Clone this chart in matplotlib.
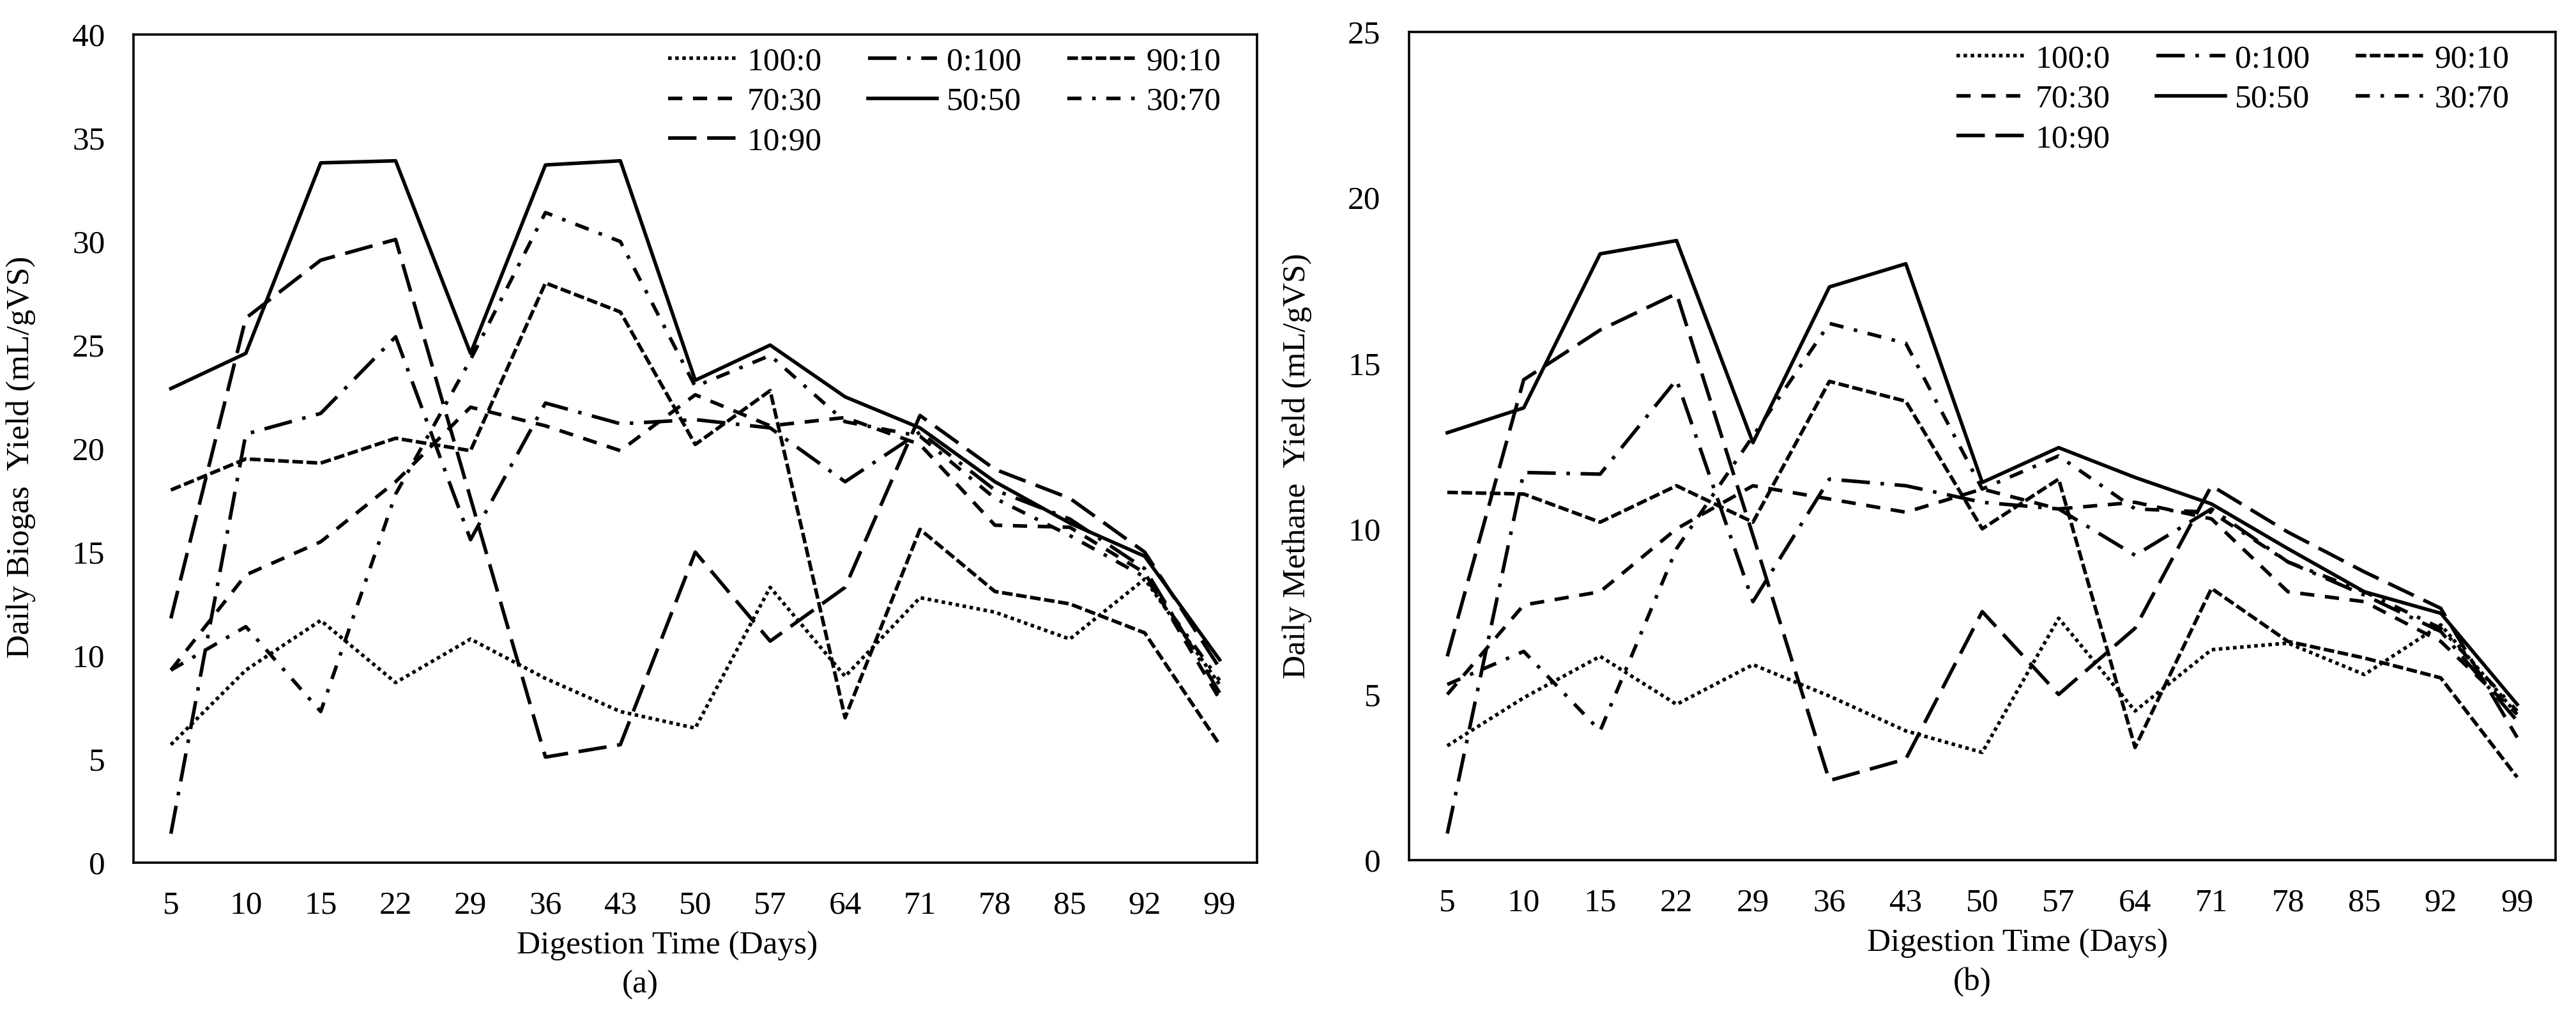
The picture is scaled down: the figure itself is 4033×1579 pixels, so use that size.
import matplotlib
matplotlib.use("Agg")
import matplotlib.pyplot as plt

plt.rcParams['font.family'] = ['Liberation Serif', 'DejaVu Serif']

days = ["5", "10", "15", "22", "29", "36", "43", "50", "57", "64", "71", "78", "85", "92", "99"]
ratios = ["100:0", "0:100", "90:10", "70:30", "50:50", "30:70", "10:90"]

# (a) daily biogas yield, mL/gVS
biogas_100_0 = [5.7, 9.3, 11.7, 8.7, 10.8, 8.9, 7.3, 6.5, 13.3, 9.0, 12.8, 12.1, 10.8, 13.7, 8.6]
biogas_0_100 = [1.4, 20.7, 21.7, 25.4, 15.6, 22.2, 21.2, 21.4, 21.0, 18.4, 20.8, 18.0, 16.6, 14.2, 8.2]
biogas_90_10 = [18.0, 19.5, 19.3, 20.5, 19.9, 28.0, 26.6, 20.2, 22.8, 7.0, 16.1, 13.1, 12.5, 11.1, 5.7]
biogas_70_30 = [9.3, 13.9, 15.5, 18.4, 22.0, 21.1, 19.9, 22.6, 21.1, 21.5, 20.2, 16.3, 16.2, 14.0, 7.9]
biogas_50_50 = [22.9, 24.6, 33.8, 33.9, 24.6, 33.7, 33.9, 23.3, 25.0, 22.5, 21.0, 18.4, 16.4, 14.8, 9.8]
biogas_30_70 = [9.3, 11.4, 7.3, 17.8, 24.3, 31.4, 30.0, 23.0, 24.5, 21.3, 20.6, 17.6, 15.8, 13.8, 8.8]
biogas_10_90 = [11.8, 26.3, 29.1, 30.1, 17.6, 5.1, 5.7, 15.0, 10.7, 13.3, 21.6, 19.0, 17.6, 15.0, 9.4]

# (b) daily methane yield, mL/gVS
methane_100_0 = [3.45, 4.9, 6.15, 4.7, 5.9, 4.95, 3.9, 3.25, 7.3, 4.5, 6.35, 6.55, 5.6, 7.1, 4.4]
methane_0_100 = [0.8, 11.7, 11.65, 14.5, 7.8, 11.5, 11.3, 10.8, 10.6, 9.2, 10.6, 9.0, 8.0, 6.9, 4.2]
methane_90_10 = [11.1, 11.05, 10.2, 11.3, 10.2, 14.45, 13.85, 10.0, 11.5, 3.4, 8.2, 6.6, 6.1, 5.5, 2.5]
methane_70_30 = [5.0, 7.7, 8.1, 10.0, 11.3, 10.9, 10.5, 11.2, 10.6, 10.8, 10.3, 8.1, 7.8, 6.6, 4.4]
methane_50_50 = [12.9, 13.65, 18.3, 18.7, 12.6, 17.3, 18.0, 11.4, 12.45, 11.55, 10.75, 9.4, 8.1, 7.45, 4.7]
methane_30_70 = [5.3, 6.3, 3.9, 9.4, 12.8, 16.2, 15.6, 11.2, 12.2, 10.6, 10.5, 9.0, 8.1, 7.0, 4.5]
methane_10_90 = [6.15, 14.5, 16.0, 17.1, 9.8, 2.4, 3.05, 7.5, 5.0, 7.0, 11.3, 9.9, 8.7, 7.6, 3.7]

# excel-like dash presets (multiples of line width)
styles = {
    "100:0": (0, (1, 1)),
    "0:100": (0, (8, 3, 1, 3)),
    "90:10": (0, (3, 1)),
    "70:30": (0, (4, 3)),
    "50:50": "-",
    "30:70": (0, (4, 3, 1, 3)),
    "10:90": (0, (8, 3)),
}

FS = 18.5
LW = 2.0


def draw_panel(ax, series, ymax, ylabel, xlabel_x, tag, tag_x, legend_x):
    lines = {}
    x = list(range(len(days)))
    for name, vals in zip(ratios, series):
        ln, = ax.plot(x, vals, color='black', lw=LW, linestyle=styles[name], label=name)
        lines[name] = ln

    ax.set_xlim(-0.5, len(days) - 0.5)
    ax.set_ylim(0, ymax)
    ax.set_xticks(x)
    ax.set_xticklabels(days)
    ax.set_yticks(range(0, ymax + 1, 5))
    ax.tick_params(length=0, labelsize=FS)
    ax.tick_params(axis='y', pad=16)
    ax.tick_params(axis='x', pad=16)
    for s in ax.spines.values():
        s.set_linewidth(1.3)
        s.set_color('black')

    ax.set_ylabel(ylabel, fontsize=FS)
    ax.yaxis.set_label_coords(-0.087, 0.49)
    ax.text(xlabel_x, -0.10, "Digestion Time (Days)", transform=ax.transAxes,
            ha='center', va='center', fontsize=FS)
    ax.text(tag_x, -0.147, tag, transform=ax.transAxes,
            ha='center', va='center', fontsize=FS)

    # row-major order like the original legend
    order = ["100:0", "70:30", "10:90", "0:100", "50:50", "90:10", "30:70"]
    ax.legend([lines[n] for n in order], order, ncol=3, loc='upper right',
              bbox_to_anchor=(legend_x, 0.985), frameon=False, fontsize=FS,
              handlelength=2.1, handletextpad=0.3, columnspacing=1.4,
              labelspacing=0.3, borderpad=0, borderaxespad=0)


fig = plt.figure(figsize=(4033 / 200, 1579 / 200), dpi=200)
ax1 = fig.add_axes([0.0518, 0.145, 0.4362, 0.8208])
ax2 = fig.add_axes([0.547, 0.1476, 0.445, 0.8208])

draw_panel(ax1,
           [biogas_100_0, biogas_0_100, biogas_90_10, biogas_70_30,
            biogas_50_50, biogas_30_70, biogas_10_90],
           40, "Daily Biogas  Yield (mL/gVS)", 0.475, "(a)", 0.451, 0.968)
draw_panel(ax2,
           [methane_100_0, methane_0_100, methane_90_10, methane_70_30,
            methane_50_50, methane_30_70, methane_10_90],
           25, "Daily Methane  Yield (mL/gVS)", 0.531, "(b)", 0.491, 0.96)
ax2.yaxis.set_label_coords(-0.085, 0.476)

fig.savefig("out.png", dpi=200)
